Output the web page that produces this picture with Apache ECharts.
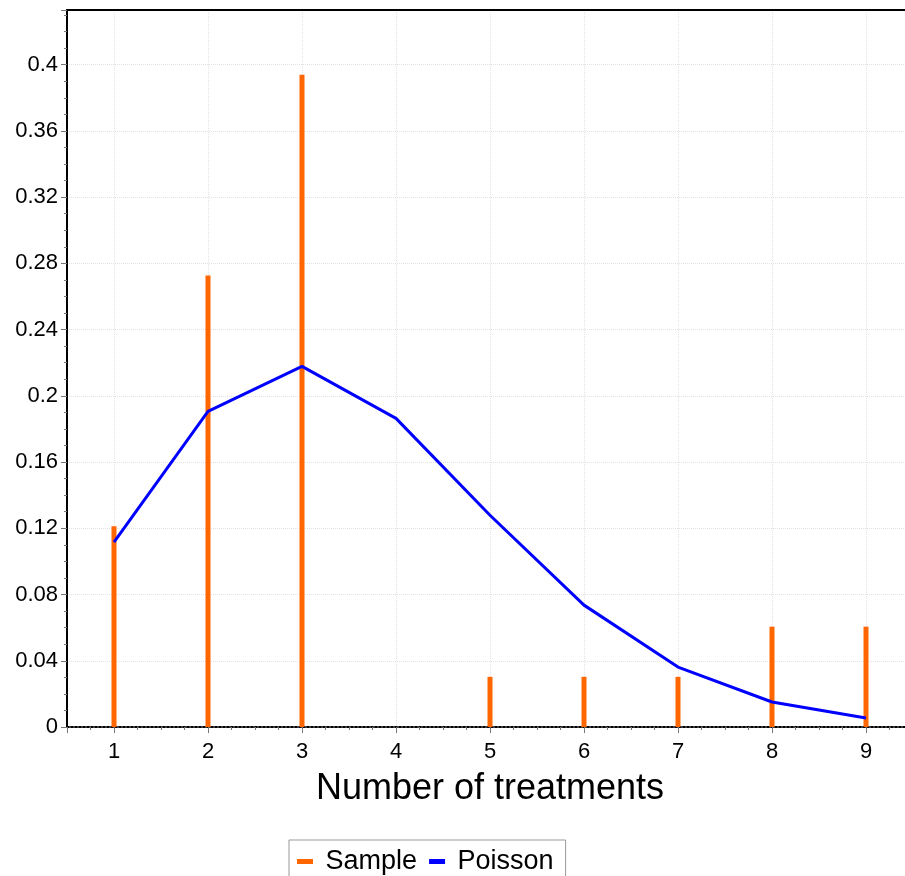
<!DOCTYPE html>
<html>
<head>
    <meta charset="utf-8" />
    <title></title>
    <script src="https://cdn.jsdelivr.net/npm/echarts@6/dist/echarts.min.js"></script>
    <style>
        html, body { margin: 0; padding: 0; background: #fff; }
        #container { width: 905px; height: 876px; }
    </style>
</head>
<body>
    <div id="container"></div>
    <script>
        var treatments = [1, 2, 3, 4, 5, 6, 7, 8, 9];
        var sample = [0.1212, 0.2727, 0.3939, null, 0.0303, 0.0303, 0.0303, 0.0606, 0.0606];
        var poisson = [0.1116, 0.1906, 0.2178, 0.1864, 0.1279, 0.0736, 0.0362, 0.0151, 0.0054];

        var font = 'Liberation Sans, Arial, sans-serif';
        var myChart = echarts.init(document.getElementById('container'));

        var option = {
            animation: false,
            textStyle: { fontFamily: font },
            grid: { left: 67, top: 10, width: 846, bottom: 149, outerBoundsMode: 'none', containLabel: false },
            legend: {
                left: 289, top: 840,
                padding: [8, 12, 6, 8],
                borderColor: '#999', borderWidth: 1,
                icon: 'rect', itemWidth: 16, itemHeight: 5, itemGap: 12,
                formatter: ' {name}',
                textStyle: { fontSize: 27, color: '#000', fontFamily: font },
                data: ['Sample', 'Poisson']
            },
            xAxis: [{
                type: 'value', min: 0.5, max: 9.5, splitNumber: 9,
                name: 'Number of treatments', nameLocation: 'middle', nameGap: 44,
                nameTextStyle: { fontSize: 36, color: '#000', fontFamily: font },
                axisLine: { onZero: false, lineStyle: { color: '#000', width: 2, type: 'dotted' } },
                axisTick: { show: true, length: 6, lineStyle: { color: '#777' } },
                minorTick: { show: true, splitNumber: 4, length: 3, lineStyle: { color: '#777' } },
                axisLabel: {
                    margin: 14, fontSize: 22, color: '#000',
                    formatter: function (v) { return Number.isInteger(v) ? String(v) : ''; }
                },
                splitLine: { show: true, lineStyle: { color: '#e2e2e2', type: 'dotted' } }
            }, {
                type: 'value', min: 0.5, max: 9.5, position: 'top',
                axisLine: { show: true, onZero: false, lineStyle: { color: '#000', width: 2 } },
                axisTick: { show: false }, axisLabel: { show: false }, splitLine: { show: false }
            }],
            yAxis: {
                type: 'value', min: 0, max: 0.433, interval: 0.04,
                axisLine: { show: true, lineStyle: { color: '#000', width: 2 } },
                axisTick: { show: true, length: 6, lineStyle: { color: '#777' } },
                minorTick: { show: true, splitNumber: 4, length: 3, lineStyle: { color: '#777' } },
                axisLabel: { margin: 9, fontSize: 22, color: '#000', showMaxLabel: false },
                splitLine: { show: true, lineStyle: { color: '#e2e2e2', type: 'dotted' } }
            },
            series: [{
                name: 'Sample', type: 'bar', barWidth: 5,
                itemStyle: { color: '#ff6600' },
                data: treatments.map(function (t, i) { return [t, sample[i]]; })
            }, {
                name: 'Poisson', type: 'line', showSymbol: false, symbol: 'none',
                lineStyle: { color: '#0000ff', width: 3 },
                itemStyle: { color: '#0000ff' },
                z: 3,
                data: treatments.map(function (t, i) { return [t, poisson[i]]; })
            }]
        };
        myChart.setOption(option);
    </script>
</body>
</html>
